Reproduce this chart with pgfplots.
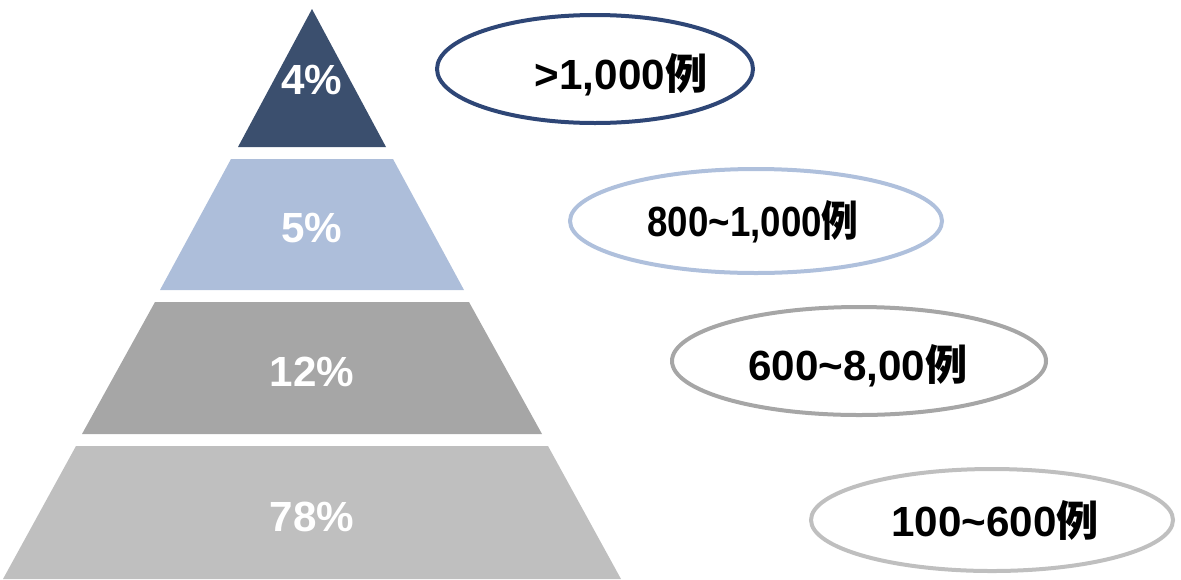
\documentclass[border=0pt]{standalone}
\usepackage{fontspec}
\setmainfont{Liberation Sans}
\newfontfamily\cjk{Noto Sans CJK SC}
\usepackage{pgfplots}
\pgfplotsset{compat=1.18}
\definecolor{tierA}{HTML}{3B4F6E}
\definecolor{tierB}{HTML}{ADBEDA}
\definecolor{tierC}{HTML}{A6A6A6}
\definecolor{tierD}{HTML}{BFBFBF}
\definecolor{ringA}{HTML}{2E4676}
\definecolor{ringB}{HTML}{AFC0DC}
\definecolor{ringC}{HTML}{A6A6A6}
\definecolor{ringD}{HTML}{BFBFBF}
\begin{document}
\begin{tikzpicture}
\begin{axis}[
  scale only axis, width=23.62cm, height=11.58cm,
  xmin=0, xmax=1181, ymin=0, ymax=579,
  hide axis, clip=false,
]
\path (axis cs:0,0) (axis cs:1181,579);
% pyramid tiers
\addplot[fill=tierA, draw=none] coordinates {(312,570) (386,432) (238,432)} -- cycle;
\addplot[fill=tierB, draw=none] coordinates {(231,420) (393,420) (464,289) (160,289)} -- cycle;
\addplot[fill=tierC, draw=none] coordinates {(155,277) (469,277) (542,145) (82,145)} -- cycle;
\addplot[fill=tierD, draw=none] coordinates {(76,133) (548,133) (621,0) (3,0)} -- cycle;
% percentage labels
\tikzset{pct/.style={font=\bfseries\fontsize{24}{27}\selectfont, text=white, inner sep=0pt}}
\node[pct] at (axis cs:312,499) {4\%};
\node[pct] at (axis cs:312,351) {5\%};
\node[pct] at (axis cs:312,207) {12\%};
\node[pct] at (axis cs:312,62) {78\%};
% ellipses
\draw[line width=0.08cm, ringA] (axis cs:595,510) ellipse [x radius=3.16cm, y radius=1.08cm];
\draw[line width=0.08cm, ringB] (axis cs:756,358) ellipse [x radius=3.72cm, y radius=1.04cm];
\draw[line width=0.08cm, ringC] (axis cs:859,218) ellipse [x radius=3.74cm, y radius=1.08cm];
\draw[line width=0.08cm, ringD] (axis cs:992,59) ellipse [x radius=3.62cm, y radius=1.02cm];
\tikzset{rng/.style={font=\bfseries\fontsize{24}{27}\selectfont, text=black, inner sep=0pt}}
\node[rng] at (axis cs:621,504) {>1,000{\cjk 例}};
\node[rng] at (axis cs:753,357) {\scalebox{0.87}[1]{800\textasciitilde1,000{\cjk 例}}};
\node[rng] at (axis cs:858,213) {600\textasciitilde8,00{\cjk 例}};
\node[rng] at (axis cs:995,59) {100\textasciitilde600{\cjk 例}};
\end{axis}
\end{tikzpicture}
\end{document}
